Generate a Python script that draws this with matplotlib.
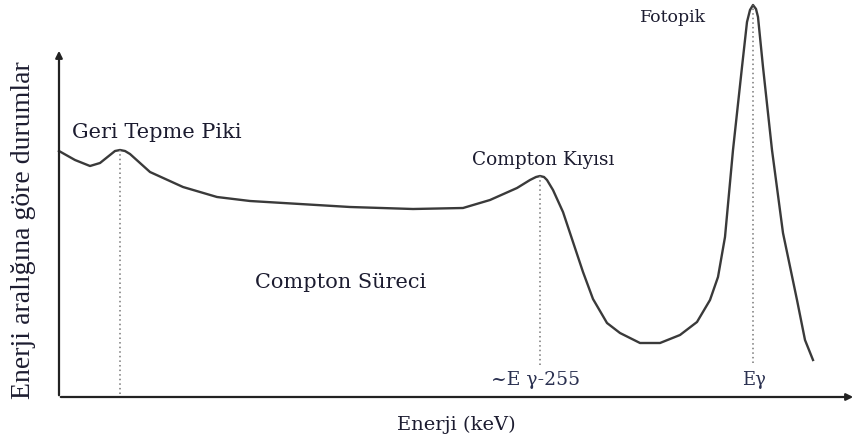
import numpy as np
import matplotlib.pyplot as plt

plt.rcParams['font.family'] = ['DejaVu Serif']

# schematic gamma spectrum (energy channel, counts)
energy = [0, 16, 31, 41, 51, 56, 61, 66, 71, 91, 124, 158, 191, 241, 291,
          354, 404, 431, 458, 471, 477, 481, 485, 488, 494, 504, 514, 524,
          534, 548, 561, 581, 601, 621, 638, 651, 659, 666, 674, 683, 688,
          691, 694, 697, 699, 704, 713, 724, 738, 746, 754]
counts = [246, 237, 231, 234, 242, 246, 247, 246, 243, 225, 210, 200, 196,
          193, 190, 188, 189, 197, 209, 217, 220, 221, 220, 217, 207, 185,
          155, 125, 98, 74, 64, 54, 54, 62, 75, 97, 120, 160, 247, 330, 375,
          387, 392, 388, 380, 330, 247, 164, 97, 57, 37]

markers = [61, 481, 694]
marker_tops = [247, 221, 392]
marker_bottoms = [3, 32, 34]

fig = plt.figure(figsize=(8.58, 4.46), dpi=100)
ax = fig.add_axes([0, 0, 1, 1])
ax.set_xlim(-59, 799)
ax.set_ylim(-49, 397)
ax.axis('off')

ink = '#1c1c30'

# axes with arrows
ax.annotate('', xy=(0, 349), xytext=(0, -1),
            arrowprops=dict(arrowstyle='-|>', color='#222222', lw=1.6,
                            mutation_scale=10))
ax.annotate('', xy=(797, 0), xytext=(-1, 0),
            arrowprops=dict(arrowstyle='-|>', color='#222222', lw=1.6,
                            mutation_scale=10))

# spectrum curve
ax.plot(energy, counts, color='#3a3a3a', lw=1.7, solid_joinstyle='round')

# dotted guide lines
ax.vlines(markers, marker_bottoms, marker_tops, colors='#777777',
          linestyles=(0, (1, 2)), lw=1.1)

# labels
ax.text(13, 264, 'Geri Tepme Piki', fontsize=15, color=ink, va='center')
ax.text(413, 237, 'Compton Kıyısı', fontsize=13.3, color=ink, va='center')
ax.text(196, 114, 'Compton Süreci', fontsize=15, color=ink, va='center')
ax.text(581, 380, 'Fotopik', fontsize=12.5, color=ink, va='center')
ax.text(477, 17, '~E γ-255', fontsize=13.5, color='#2a3050',
        ha='center', va='center')
ax.text(695, 17, 'Eγ', fontsize=13, color='#2a3050', ha='center', va='center')
ax.text(397, -28, 'Enerji (keV)', fontsize=14, color=ink,
        ha='center', va='center')
ax.text(-35, 167, 'Enerji aralığına göre durumlar', fontsize=20, color=ink,
        family=['Liberation Serif'], rotation=90, ha='center', va='center')

fig.savefig('out.png', dpi=100)
